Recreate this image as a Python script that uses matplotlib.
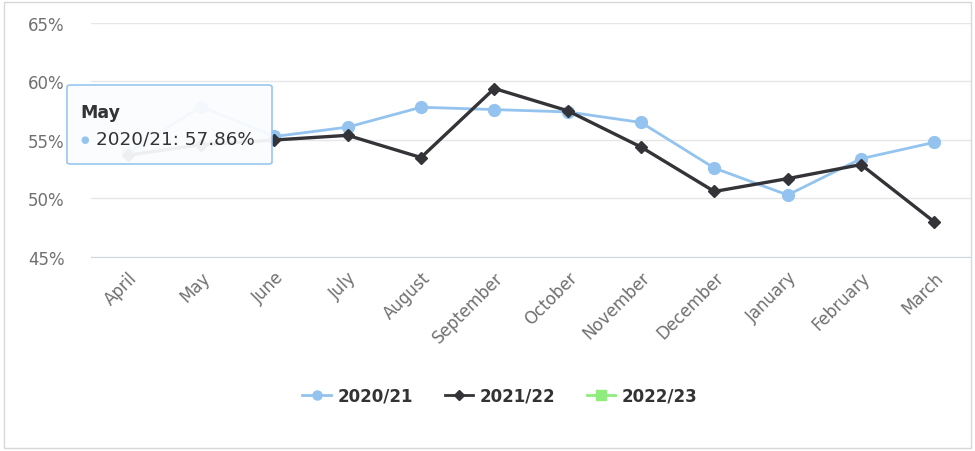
import matplotlib.pyplot as plt
from matplotlib.patches import FancyBboxPatch, Rectangle
from matplotlib.lines import Line2D
from matplotlib.ticker import FuncFormatter

plt.rcParams['font.family'] = ['DejaVu Sans']

# data
months = ['April', 'May', 'June', 'July', 'August', 'September', 'October',
          'November', 'December', 'January', 'February', 'March']
s2021 = [53.9, 57.86, 55.3, 56.1, 57.8, 57.6, 57.4, 56.5, 52.6, 50.3, 53.4, 54.8]
s2122 = [53.7, 54.6, 55.0, 55.4, 53.5, 59.4, 57.5, 54.4, 50.6, 51.7, 52.9, 48.0]
s2223 = []
yticks = [45, 50, 55, 60, 65]

c_blue = '#93c3ee'
c_dark = '#333338'
c_green = '#90ed7d'

fig = plt.figure(figsize=(9.75, 4.52), dpi=100)
fig.patches.append(Rectangle((0.004, 0.006), 0.992, 0.988, transform=fig.transFigure,
                             fill=False, edgecolor='#d8d8d8', linewidth=1))
ax = fig.add_axes([91 / 975, 1 - 258 / 452, 880 / 975, 234 / 452])

x = range(len(months))
ax.plot(x, s2021, color=c_blue, lw=2, marker='o', ms=8.5, zorder=3)
ax.plot(x, s2122, color=c_dark, lw=2.4, marker='D', ms=6, zorder=4)

ax.set_xlim(-0.5, len(months) - 0.5)
ax.set_ylim(45, 65)
ax.set_yticks(yticks)
ax.yaxis.set_major_formatter(FuncFormatter(lambda v, p: f'{v:.0f}%'))
ax.set_xticks(list(x))
ax.set_xticklabels(months, rotation=45, ha='right', rotation_mode='anchor')
ax.tick_params(axis='both', length=0, labelsize=12, colors='#707070')
ax.tick_params(axis='y', pad=19)
ax.tick_params(axis='x', pad=8)
ax.grid(axis='y', color='#e6e6e6', lw=1)
for side in ['top', 'right', 'left']:
    ax.spines[side].set_visible(False)
ax.spines['bottom'].set_color('#d0d6e2')
ax.set_axisbelow(True)

handles = [
    Line2D([], [], color=c_blue, lw=2, marker='o', ms=6.5),
    Line2D([], [], color=c_dark, lw=2, marker='D', ms=5),
    Line2D([], [], color=c_green, lw=2, marker='s', ms=6.5),
]
fig.legend(handles, ['2020/21', '2021/22', '2022/23'], loc='center',
           bbox_to_anchor=(500 / 975, 1 - 397 / 452), ncol=3, frameon=False,
           handlelength=1.7, columnspacing=1.9, handletextpad=0.4,
           prop={'weight': 'bold', 'size': 12}, labelcolor='#333333')

# tooltip for May
tip = FancyBboxPatch((67 / 975, 1 - 165 / 452), 205 / 975, 79 / 452,
                     boxstyle='round,pad=0,rounding_size=0.004',
                     transform=fig.transFigure, facecolor='#fbfcfe', alpha=0.94,
                     edgecolor=c_blue, linewidth=1.2, zorder=10)
fig.patches.append(tip)
fig.text(80 / 975, 1 - 113 / 452, months[1], fontsize=12.5, fontweight='bold',
         color='#333333', va='center', zorder=11)
fig.text(80 / 975, 1 - 140 / 452, '\u25cf', fontsize=7, color=c_blue, va='center', zorder=11)
fig.text(96 / 975, 1 - 140 / 452, f'2020/21: {s2021[1]:.2f}%', fontsize=13.2,
         color='#333333', va='center', zorder=11)

fig.savefig('out.png', dpi=100)
